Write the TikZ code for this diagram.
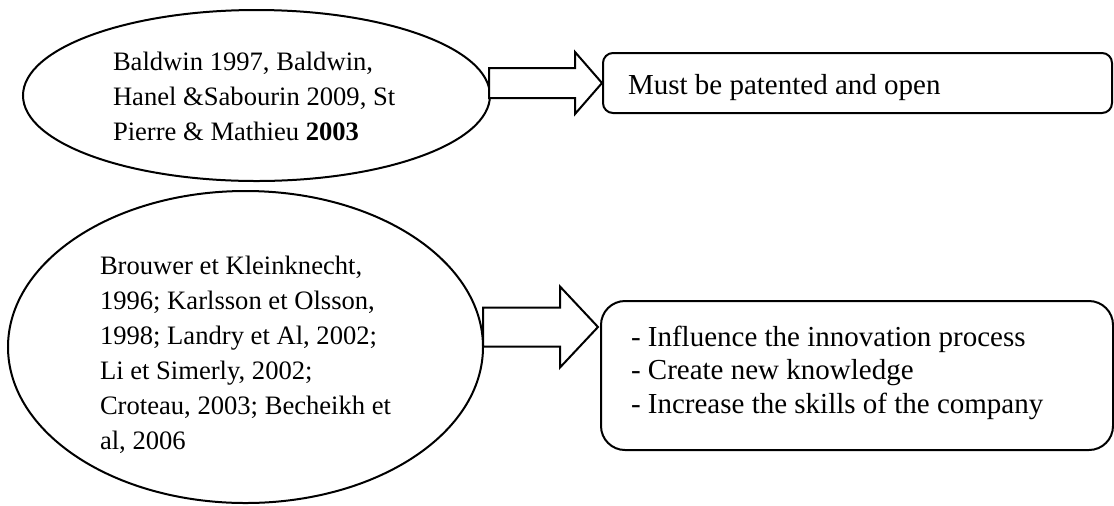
\documentclass[tikz,border=0pt]{standalone}
\usepackage{fontspec}
\setmainfont{Liberation Serif}
\usetikzlibrary{shapes.geometric}

\begin{document}
\begin{tikzpicture}[
    x=0.5pt, y=-0.5pt,
    line width=1pt,
    oval/.style={ellipse, draw=black, inner sep=0},
    box/.style={
        rectangle,
        draw=black,
        inner sep=0,
      },
    blockarr/.style={draw=black, fill=white, line join=miter},
    txt/.style={anchor=north west, inner sep=0, align=left,
        font=\fontsize{13.3}{17.5}\selectfont},
    boxtxt/.style={txt, font=\fontsize{14.5}{16.75}\selectfont},
  ]
  \useasboundingbox (0,0) rectangle (1114,505);

  \node[oval, minimum width=233.5pt, minimum height=85.5pt] (e1) at (256.5,95.5) {};
  \node[oval, minimum width=237.5pt, minimum height=156pt] (e2) at (245.5,347) {};

  \node[box, rounded corners=5pt, minimum width=254.5pt, minimum height=30pt] (b1) at (857.5,83) {};
  \node[box, rounded corners=12pt, minimum width=256pt, minimum height=74.5pt] (b2) at (857,375.5) {};

  \node[txt] (t1) at (112,51) {Baldwin 1997, Baldwin,\\Hanel \&Sabourin 2009, St\\Pierre \& Mathieu \textbf{2003}};
  \node[txt] (t2) at (99,255) {Brouwer et Kleinknecht,\\1996; Karlsson et Olsson,\\1998; Landry et Al, 2002;\\Li et Simerly, 2002;\\Croteau, 2003; Becheikh et\\al, 2006};

  \node[boxtxt] (l1) at (627,73) {Must be patented and open};
  \node[boxtxt] (l2) at (630,325) {- Influence the innovation process\\- Create new knowledge\\- Increase the skills of the company};

  % block arrows
  \coordinate (tip2) at (598,327);
  \draw[blockarr] (b1.west) -- ++(-27,-31) -- ++(0,16) -- ++(-86,0) -- ++(0,30) -- ++(86,0) -- ++(0,16) -- cycle;
  \draw[blockarr] (tip2) -- ++(-38,-40.5) -- ++(0,21) -- ++(-77,0) -- ++(0,39) -- ++(77,0) -- ++(0,21) -- cycle;
\end{tikzpicture}
\end{document}
